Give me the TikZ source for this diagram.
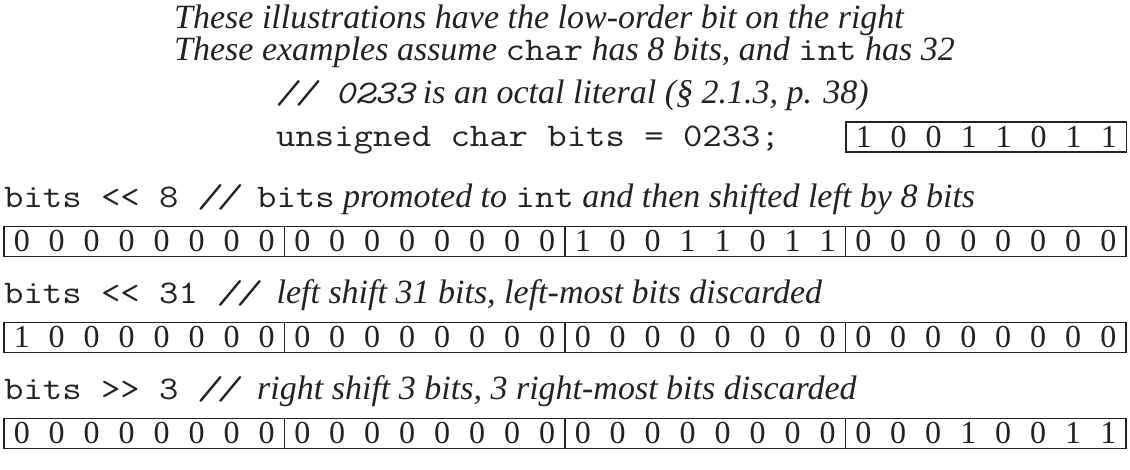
\documentclass[tikz,border=0pt]{standalone}
\usepackage{fontspec}
\setmainfont{Liberation Serif}
\setmonofont{Latin Modern Mono}[FakeStretch=1.14]
\definecolor{ink}{HTML}{222222}
\newcommand\cellrow[1]{\cellrowA#1\relax}
\def\cellrowA#1{\ifx#1\relax\else\makebox[35pt]{#1}\expandafter\cellrowA\fi}
\newcommand\cm[1]{{\fontsize{34}{36}\selectfont\itshape #1}}
\newcommand\cd[1]{{\ttfamily #1}}
\tikzset{
  txt/.style={anchor=base west, inner sep=0pt, text=ink, font=\fontsize{33}{36}\selectfont},
  bytebox/.style={draw=ink, line width=1.3pt, inner sep=0pt, minimum width=280.5pt,
    minimum height=30pt, text=ink, font=\fontsize{32}{34}\selectfont}
}
\begin{document}
\begin{tikzpicture}[x=1pt,y=-1pt]
\useasboundingbox (0,0) rectangle (1130,469);
% header lines
\node[txt] (h1) at (174,28) {\cm{These illustrations have the low-order bit on the right}};
\node[txt] (h2) at (174,60) {\cm{These examples assume }\cd{char}\cm{ has 8 bits, and }\cd{int}\cm{ has 32}};
\node[txt] (h3) at (276,103) {{\ttfamily\itshape // 0233}\cm{ is an octal literal (§ 2.1.3, p. 38)}};
\node[txt] (h4) at (276,146) {\cd{unsigned char bits = 0233;}};
\node[bytebox] (src) at (986.25,137) {\cellrow{10011011}};
% row 1
\node[txt] (l1) at (4,207) {\cd{bits <{}< 8 }{\ttfamily\itshape // }\cd{bits}\cm{ promoted to }\cd{int}\cm{ and then shifted left by 8 bits}};
\node[bytebox] (a0) at (144.25,241.5) {\cellrow{00000000}};
\node[bytebox] (a1) at (424.75,241.5) {\cellrow{00000000}};
\node[bytebox] (a2) at (705.25,241.5) {\cellrow{10011011}};
\node[bytebox] (a3) at (985.75,241.5) {\cellrow{00000000}};
% row 2
\node[txt] (l2) at (4,303) {\cd{bits <{}< 31 }{\ttfamily\itshape // }\cm{left shift 31 bits, left-most bits discarded}};
\node[bytebox] (b0) at (144.25,337.5) {\cellrow{10000000}};
\node[bytebox] (b1) at (424.75,337.5) {\cellrow{00000000}};
\node[bytebox] (b2) at (705.25,337.5) {\cellrow{00000000}};
\node[bytebox] (b3) at (985.75,337.5) {\cellrow{00000000}};
% row 3
\node[txt] (l3) at (4,399) {\cd{bits >{}> 3 }{\ttfamily\itshape // }\cm{right shift 3 bits, 3 right-most bits discarded}};
\node[bytebox] (c0) at (144.25,433.5) {\cellrow{00000000}};
\node[bytebox] (c1) at (424.75,433.5) {\cellrow{00000000}};
\node[bytebox] (c2) at (705.25,433.5) {\cellrow{00000000}};
\node[bytebox] (c3) at (985.75,433.5) {\cellrow{00010011}};
\end{tikzpicture}
\end{document}
